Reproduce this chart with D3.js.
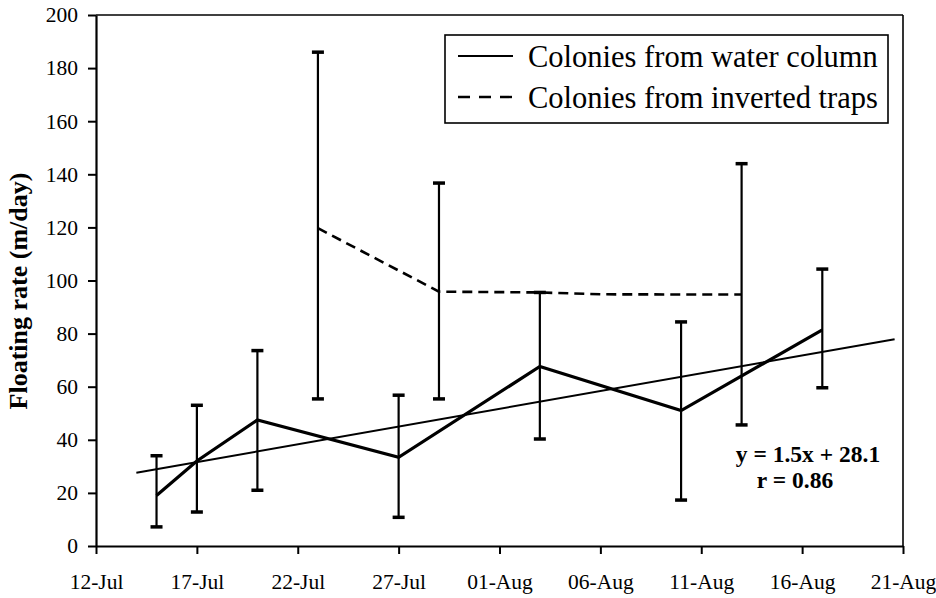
<!DOCTYPE html>
<html>
<head>
<meta charset="utf-8">
<script src="https://cdn.jsdelivr.net/npm/d3@7"></script>
<style>
    body { margin: 0; background: #fff; }
    text { font-family: "Liberation Serif", "DejaVu Serif", serif; fill: #000; }
</style>
</head>
<body>
<script>
'use strict';

const FONT = '"Liberation Serif", "DejaVu Serif", serif';

// water column colonies (mean with error bars)
const waterDates = ["15-Jul", "17-Jul", "20-Jul", "27-Jul", "03-Aug", "10-Aug", "17-Aug"];
const waterMean = [19, 32, 47.5, 33.4, 67.6, 51, 81.4];
const waterLow = [7.2, 12.8, 21, 10.8, 40.3, 17.3, 59.6];
const waterHigh = [34, 53, 73.6, 56.8, 95.5, 84.4, 104.3];

// inverted trap colonies (bars only where measured)
const trapDates = ["23-Jul", "29-Jul", "03-Aug", "06-Aug", "13-Aug"];
const trapMean = [119.7, 95.8, 95.5, 94.8, 94.7];
const trapLow = [55.4, 55.4, null, null, 45.6];
const trapHigh = [186, 136.7, null, null, 144];

// regression line end points
const trendDates = ["14-Jul 00", "20-Aug 14"];
const trendValues = [27.6, 77.9];

const xTickLabels = ["12-Jul", "17-Jul", "22-Jul", "27-Jul", "01-Aug", "06-Aug", "11-Aug", "16-Aug", "21-Aug"];
const yTickValues = [0, 20, 40, 60, 80, 100, 120, 140, 160, 180, 200];

const parseDay = d3.timeParse("%d-%b %Y");
const parseDayHour = d3.timeParse("%d-%b %H %Y");
const day = (s) => s.length > 6 ? parseDayHour(s + " 2000") : parseDay(s + " 2000");

const svg = d3.select("body").append("svg")
    .attr("width", 936)
    .attr("height", 598);

// scales
const x = d3.scaleTime()
    .domain([day("12-Jul"), day("21-Aug")])
    .range([96, 903]);
const y = d3.scaleLinear()
    .domain([0, 200])
    .range([546, 15]);

// frame top and right
svg.append("line")
    .attr("x1", x.range()[0]).attr("x2", x.range()[1])
    .attr("y1", y(200)).attr("y2", y(200))
    .attr("stroke", "#000").attr("stroke-width", 1.6);
svg.append("line")
    .attr("x1", x.range()[1]).attr("x2", x.range()[1])
    .attr("y1", y(200)).attr("y2", y(0))
    .attr("stroke", "#000").attr("stroke-width", 1.6);

// axes
const xAxis = d3.axisBottom(x)
    .tickValues(xTickLabels.map(day))
    .tickFormat(d3.timeFormat("%d-%b"))
    .tickSize(8)
    .tickSizeOuter(0)
    .tickPadding(20);
const gx = svg.append("g")
    .attr("transform", `translate(0, ${y(0)})`)
    .call(xAxis);

const yAxis = d3.axisLeft(y)
    .tickValues(yTickValues)
    .tickSize(8)
    .tickSizeOuter(0)
    .tickPadding(10);
const gy = svg.append("g")
    .attr("transform", `translate(${x.range()[0]}, 0)`)
    .call(yAxis);

[gx, gy].forEach((g) => {
    g.attr("font-family", FONT);
    g.select(".domain").attr("stroke-width", 2.2);
    g.selectAll(".tick line").attr("stroke-width", 2);
    g.selectAll(".tick text")
        .style("font-family", FONT)
        .style("font-size", "21.5px");
});

// y axis title
svg.append("text")
    .attr("transform", "translate(27, 291)rotate(-90)")
    .attr("text-anchor", "middle")
    .style("font-size", "26px")
    .style("font-weight", "bold")
    .text("Floating rate (m/day)");

// trend line
svg.append("path")
    .datum(trendDates.map((d, i) => [day(d), trendValues[i]]))
    .attr("fill", "none")
    .attr("stroke", "#000")
    .attr("stroke-width", 2)
    .attr("d", d3.line().x((d) => x(d[0])).y((d) => y(d[1])));

// error bars
function errorBars(dates, low, high) {
    const rows = dates.map((d, i) => ({ date: day(d), lo: low[i], hi: high[i] }))
        .filter((r) => r.lo !== null);
    const g = svg.append("g").attr("stroke", "#000");
    g.selectAll(".bar").data(rows).enter().append("line")
        .attr("x1", (d) => x(d.date)).attr("x2", (d) => x(d.date))
        .attr("y1", (d) => y(d.lo)).attr("y2", (d) => y(d.hi))
        .attr("stroke-width", 2.2);
    ["lo", "hi"].forEach((k) => {
        g.selectAll(".cap-" + k).data(rows).enter().append("line")
            .attr("x1", (d) => x(d.date) - 6).attr("x2", (d) => x(d.date) + 6)
            .attr("y1", (d) => y(d[k])).attr("y2", (d) => y(d[k]))
            .attr("stroke-width", 3.5);
    });
}
errorBars(waterDates, waterLow, waterHigh);
errorBars(trapDates, trapLow, trapHigh);

// series lines
const line = d3.line().x((d) => x(d[0])).y((d) => y(d[1]));
svg.append("path")
    .datum(waterDates.map((d, i) => [day(d), waterMean[i]]))
    .attr("fill", "none")
    .attr("stroke", "#000")
    .attr("stroke-width", 3.2)
    .attr("stroke-linejoin", "miter")
    .attr("d", line);
svg.append("path")
    .datum(trapDates.map((d, i) => [day(d), trapMean[i]]))
    .attr("fill", "none")
    .attr("stroke", "#000")
    .attr("stroke-width", 2.6)
    .attr("stroke-dasharray", "10,6")
    .attr("d", line);

// legend
const legend = svg.append("g");
legend.append("rect")
    .attr("x", 445).attr("y", 35)
    .attr("width", 443).attr("height", 88)
    .attr("fill", "#fff")
    .attr("stroke", "#000")
    .attr("stroke-width", 1.6);
const legendItems = [
    { label: "Colonies from water column", dash: null, w: 1.8 },
    { label: "Colonies from inverted traps", dash: "12,9", w: 2.4 }
];
legendItems.forEach((item, i) => {
    const cy = 56 + i * 41;
    legend.append("line")
        .attr("x1", 458).attr("x2", 513)
        .attr("y1", cy).attr("y2", cy)
        .attr("stroke", "#000")
        .attr("stroke-width", item.w)
        .attr("stroke-dasharray", item.dash);
    legend.append("text")
        .attr("x", 528).attr("y", cy)
        .attr("dy", "0.35em")
        .style("font-size", "30.5px")
        .text(item.label);
});

// regression text
svg.append("text")
    .attr("x", 808).attr("y", 462)
    .attr("text-anchor", "middle")
    .style("font-size", "23.5px")
    .style("font-weight", "bold")
    .text("y = 1.5x + 28.1");
svg.append("text")
    .attr("x", 795).attr("y", 488)
    .attr("text-anchor", "middle")
    .style("font-size", "23.5px")
    .style("font-weight", "bold")
    .text("r = 0.86");
</script>
</body>
</html>
